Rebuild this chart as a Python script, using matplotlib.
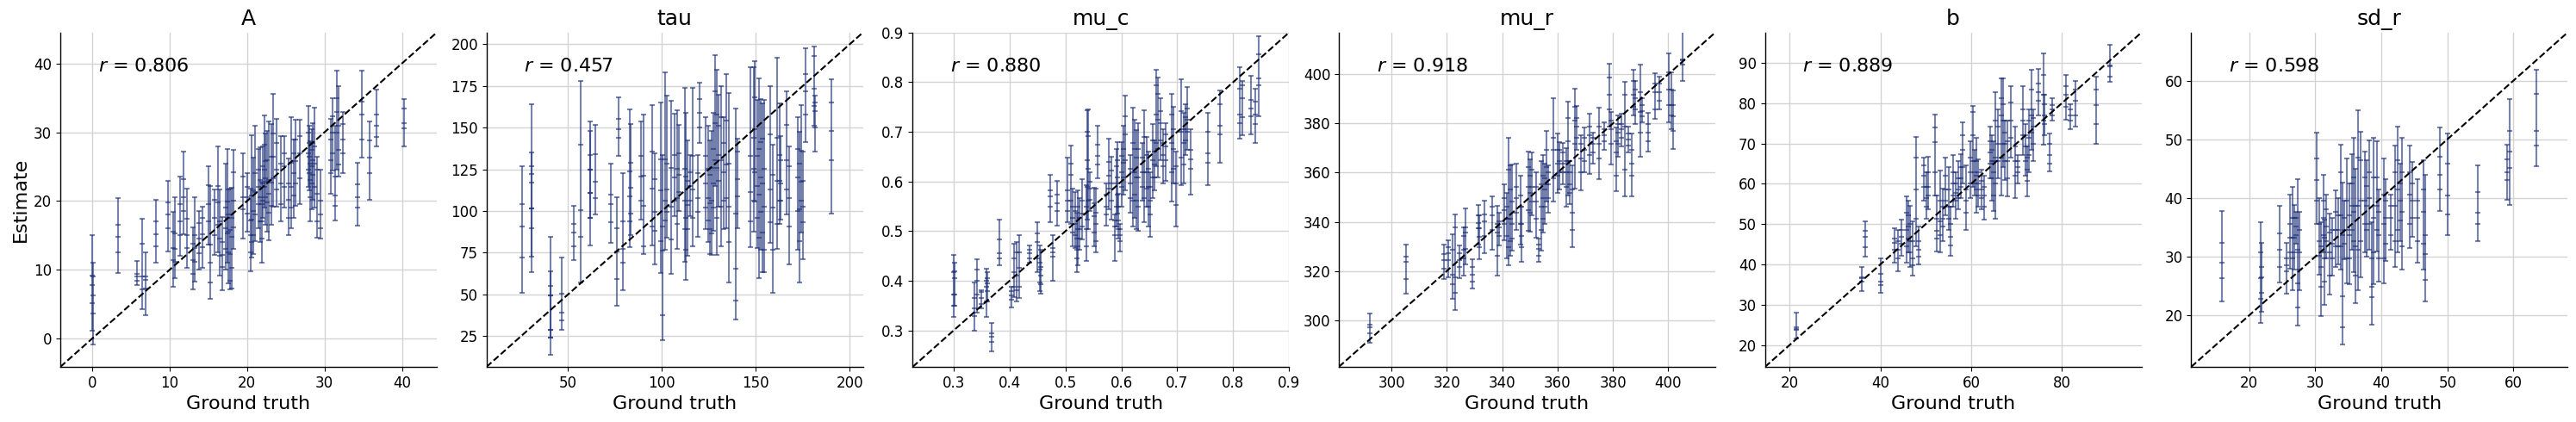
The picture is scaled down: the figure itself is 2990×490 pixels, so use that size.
import numpy as np
import matplotlib.pyplot as plt

params = ['A', 'tau', 'mu_c', 'mu_r', 'b', 'sd_r']
r_text = ['0.806', '0.457', '0.880', '0.918', '0.889', '0.598']

# each row: ground truth, lower, q25, median, q75, upper
A_rows = [
    (0.0, 1.2, 5.2, 7.8, 9.2, 15.0), (0.1, -0.8, 3.6, 6.3, 9.0, 11.0),
    (3.3, 9.6, 12.6, 14.8, 16.6, 20.4), (5.8, 7.8, 8.4, 9.0, 9.4, 11.3),
    (6.5, 4.3, 7.2, 9.0, 13.8, 17.4), (6.9, 3.4, 7.3, 8.6, 9.0, 12.6),
    (8.3, 11.1, 13.4, 15.2, 17.0, 20.2), (9.8, 12.7, 16.0, 18.0, 19.8, 22.9),
    (10.5, 7.6, 11.4, 13.2, 15.5, 18.4), (10.7, 8.8, 11.2, 13.0, 15.3, 20.6),
    (11.4, 12.0, 15.0, 17.0, 19.5, 23.5), (11.8, 15.2, 18.6, 20.5, 23.2, 27.2),
    (12.2, 10.3, 13.2, 15.0, 17.4, 21.8), (13.0, 7.2, 9.4, 11.4, 13.8, 16.2),
    (13.3, 8.3, 11.2, 13.2, 15.0, 20.5), (13.8, 10.0, 12.4, 14.5, 16.8, 18.6),
    (14.2, 10.3, 13.3, 15.2, 17.5, 19.2), (15.0, 13.7, 17.0, 19.5, 22.3, 25.0),
    (15.3, 5.8, 8.2, 11.0, 13.7, 22.2), (15.8, 12.2, 15.0, 17.6, 20.2, 21.7),
    (16.2, 12.5, 16.6, 19.8, 22.2, 28.0), (16.5, 9.2, 12.0, 14.5, 17.0, 21.7),
    (16.8, 7.0, 10.4, 12.2, 14.0, 17.7), (17.2, 10.0, 13.0, 16.0, 19.0, 25.5),
    (17.5, 11.0, 15.3, 17.6, 19.9, 27.6), (17.6, 8.0, 12.5, 15.5, 18.0, 21.7),
    (17.8, 7.2, 8.4, 12.3, 15.8, 21.8), (18.0, 7.3, 10.3, 14.8, 17.6, 21.9),
    (18.3, 13.0, 16.2, 20.0, 24.2, 27.5), (19.5, 14.5, 18.8, 20.6, 23.5, 27.0),
    (20.0, 15.6, 18.2, 20.5, 22.0, 24.0), (20.5, 9.8, 12.5, 15.1, 17.2, 21.8),
    (20.6, 11.8, 14.0, 17.3, 20.8, 29.6), (20.8, 12.3, 15.0, 18.5, 21.5, 26.3),
    (21.0, 14.2, 18.0, 21.3, 24.0, 30.9), (21.5, 16.0, 19.5, 22.0, 24.5, 27.6),
    (21.7, 14.0, 17.0, 20.5, 23.0, 27.8), (21.9, 11.0, 14.5, 17.0, 19.5, 22.8),
    (22.0, 17.5, 20.0, 22.5, 25.0, 28.0), (22.3, 19.0, 22.0, 24.5, 28.2, 32.4),
    (22.4, 16.6, 20.5, 23.3, 25.8, 29.8), (22.6, 15.5, 19.8, 22.8, 26.0, 30.2),
    (22.8, 14.3, 18.3, 21.0, 23.0, 31.6), (23.2, 16.5, 19.3, 22.7, 26.5, 31.2),
    (23.4, 19.2, 23.3, 26.4, 29.8, 35.6), (23.8, 19.2, 21.7, 24.6, 28.5, 32.0),
    (24.4, 17.0, 19.5, 22.5, 25.5, 29.4), (24.8, 19.0, 22.0, 25.0, 27.0, 29.4),
    (25.4, 15.0, 17.5, 20.2, 22.5, 26.2), (25.7, 16.0, 19.0, 22.0, 25.6, 32.2),
    (26.0, 17.5, 20.8, 24.0, 27.0, 29.0), (26.3, 19.3, 22.5, 25.8, 29.0, 31.8),
    (26.8, 19.5, 23.3, 27.0, 29.5, 31.8), (27.9, 22.0, 24.5, 27.0, 30.0, 33.8),
    (28.0, 21.5, 24.0, 26.5, 28.5, 31.0), (28.2, 17.0, 20.5, 23.0, 25.5, 28.7),
    (28.4, 18.8, 22.5, 25.0, 27.5, 30.5), (28.5, 20.2, 23.8, 26.0, 28.4, 31.3),
    (28.7, 19.0, 22.0, 25.5, 28.0, 33.6), (29.0, 14.7, 17.0, 21.0, 24.5, 26.5),
    (29.5, 14.5, 16.0, 18.0, 20.0, 24.5), (30.8, 21.0, 24.0, 26.0, 29.0, 32.0),
    (31.0, 24.4, 27.0, 30.0, 32.3, 34.9), (31.4, 17.2, 19.3, 20.8, 23.5, 31.0),
    (31.6, 24.5, 30.0, 33.0, 35.0, 39.0), (31.8, 23.6, 25.3, 27.5, 31.0, 36.7),
    (32.4, 24.0, 27.0, 29.0, 31.2, 33.0), (34.3, 16.4, 19.0, 20.5, 22.4, 25.6),
    (34.8, 26.3, 29.0, 32.6, 34.4, 39.0), (35.8, 20.2, 24.0, 26.3, 28.8, 31.6),
    (36.7, 28.0, 29.3, 31.0, 32.6, 36.2), (40.3, 28.0, 30.6, 31.3, 33.4, 34.8),
]

tau_rows = [
    (25.6, 50.8, 72.1, 90.7, 104.1, 126.9), (30.4, 63.2, 89.5, 101.4, 116.9, 163.9),
    (30.6, 72.7, 101.4, 122.0, 127.0, 135.0), (40.8, 13.6, 24.0, 28.8, 49.4, 64.0),
    (40.9, 24.0, 29.0, 49.4, 54.9, 84.7), (46.6, 28.8, 34.5, 39.1, 50.3, 72.3),
    (52.9, 70.4, 78.7, 86.9, 92.1, 103.3), (56.6, 57.2, 84.5, 100.5, 139.6, 178.1),
    (61.8, 79.2, 95.9, 111.0, 125.0, 153.5), (62.0, 95.9, 111.0, 125.0, 133.7, 148.0),
    (64.5, 98.0, 108.0, 117.4, 134.3, 151.8), (72.6, 80.7, 93.1, 104.0, 110.0, 128.2),
    (76.0, 43.1, 59.2, 76.0, 89.9, 108.3), (76.7, 132.9, 144.0, 149.2, 155.3, 168.2),
    (79.0, 52.3, 68.9, 77.3, 93.7, 122.6), (82.8, 78.3, 93.8, 109.0, 124.0, 160.8),
    (83.2, 85.6, 98.5, 114.0, 129.0, 152.3), (88.9, 95.0, 106.2, 120.8, 132.9, 153.5),
    (90.0, 74.4, 79.0, 103.1, 121.4, 157.8), (94.6, 79.5, 90.7, 113.6, 135.5, 163.3),
    (96.1, 68.0, 88.1, 99.3, 119.0, 134.6), (99.6, 62.8, 82.1, 112.2, 131.0, 165.1),
    (100.4, 22.4, 37.4, 76.1, 90.7, 133.7), (101.5, 77.0, 94.2, 106.2, 131.2, 183.1),
    (102.5, 83.8, 99.3, 113.1, 128.6, 169.0), (105.0, 62.3, 83.0, 102.8, 126.0, 165.9),
    (106.5, 96.7, 106.2, 120.0, 133.7, 158.2), (108.0, 77.3, 92.5, 107.9, 125.1, 160.4),
    (108.8, 100.2, 111.4, 121.7, 134.6, 151.5), (112.2, 69.7, 89.0, 106.2, 125.5, 173.8),
    (112.6, 58.5, 77.0, 95.9, 120.8, 158.7), (113.4, 73.2, 89.0, 103.6, 118.3, 142.4),
    (115.2, 96.7, 106.2, 114.8, 123.4, 133.7), (116.3, 78.7, 95.9, 113.1, 132.9, 173.7),
    (119.3, 84.7, 99.3, 107.9, 122.6, 133.7), (120.1, 140.6, 150.1, 158.7, 167.3, 176.8),
    (123.2, 89.0, 101.9, 116.5, 132.9, 156.5), (124.4, 81.3, 94.2, 107.9, 125.1, 151.0),
    (125.5, 74.4, 89.0, 104.5, 121.7, 142.4), (126.4, 73.5, 86.4, 106.2, 126.0, 147.9),
    (127.4, 88.1, 101.9, 116.5, 137.2, 158.7), (128.2, 114.8, 130.3, 152.7, 172.0, 193.5),
    (129.0, 73.5, 95.9, 126.0, 157.8, 184.5), (130.2, 102.8, 118.3, 133.7, 151.0, 169.9),
    (131.6, 79.0, 102.8, 130.3, 156.1, 175.0), (132.8, 89.0, 106.2, 123.4, 140.6, 156.1),
    (134.3, 89.9, 107.9, 127.7, 154.4, 181.9), (135.4, 57.2, 81.3, 102.8, 128.6, 170.7),
    (139.2, 34.8, 46.3, 65.3, 98.5, 161.6), (140.4, 89.9, 108.8, 119.1, 135.5, 143.2),
    (147.0, 78.3, 93.8, 111.4, 132.9, 186.2), (148.8, 87.6, 106.2, 125.1, 144.1, 186.2),
    (149.6, 105.9, 123.4, 149.2, 168.2, 190.0), (150.7, 77.8, 95.9, 114.8, 132.9, 166.4),
    (151.6, 59.7, 83.8, 109.7, 137.2, 179.3), (152.6, 77.0, 99.3, 120.0, 141.5, 167.3),
    (153.4, 63.2, 87.3, 116.5, 143.2, 164.7), (154.2, 63.2, 77.0, 102.8, 125.1, 166.4),
    (157.7, 80.7, 93.3, 113.1, 145.8, 175.0), (158.8, 51.1, 77.0, 101.9, 121.7, 139.8),
    (161.3, 77.3, 92.5, 118.3, 144.1, 191.7), (162.6, 92.5, 106.2, 118.3, 133.7, 164.7),
    (163.3, 95.0, 106.2, 116.5, 130.3, 144.9), (166.4, 98.0, 113.1, 130.3, 151.5, 171.6),
    (167.9, 68.0, 90.7, 107.9, 126.9, 138.9), (172.2, 77.0, 100.2, 120.0, 137.2, 156.5),
    (173.0, 57.2, 82.1, 101.1, 128.6, 147.5), (174.0, 87.3, 106.2, 117.4, 136.3, 163.3),
    (175.1, 71.3, 93.3, 102.8, 118.3, 135.8), (176.6, 141.1, 157.8, 172.0, 181.9, 197.4),
    (180.9, 151.0, 163.0, 173.3, 192.8, 198.8), (181.3, 135.8, 150.0, 160.0, 165.0, 169.4),
    (190.1, 98.5, 130.3, 147.9, 165.1, 178.8),
]

mu_c_rows = [
    (0.300, 0.327, 0.350, 0.373, 0.417, 0.453), (0.302, 0.350, 0.373, 0.405, 0.420, 0.437),
    (0.337, 0.300, 0.330, 0.345, 0.365, 0.397), (0.342, 0.336, 0.373, 0.400, 0.423, 0.443),
    (0.350, 0.345, 0.354, 0.365, 0.377, 0.382), (0.359, 0.327, 0.359, 0.388, 0.400, 0.424),
    (0.361, 0.359, 0.380, 0.395, 0.405, 0.417), (0.368, 0.259, 0.278, 0.287, 0.295, 0.316),
    (0.382, 0.431, 0.446, 0.455, 0.483, 0.523), (0.403, 0.347, 0.362, 0.371, 0.380, 0.388),
    (0.409, 0.368, 0.388, 0.417, 0.446, 0.475), (0.413, 0.359, 0.382, 0.411, 0.457, 0.478),
    (0.417, 0.365, 0.388, 0.426, 0.457, 0.493), (0.436, 0.437, 0.446, 0.455, 0.463, 0.472),
    (0.450, 0.417, 0.446, 0.478, 0.495, 0.519), (0.454, 0.379, 0.397, 0.423, 0.437, 0.472),
    (0.456, 0.375, 0.394, 0.411, 0.428, 0.463), (0.477, 0.401, 0.449, 0.457, 0.466, 0.493),
    (0.473, 0.519, 0.550, 0.570, 0.582, 0.614), (0.485, 0.512, 0.540, 0.556, 0.573, 0.601),
    (0.504, 0.518, 0.541, 0.562, 0.582, 0.648), (0.510, 0.515, 0.562, 0.614, 0.636, 0.673),
    (0.513, 0.469, 0.498, 0.527, 0.550, 0.585), (0.517, 0.466, 0.492, 0.515, 0.540, 0.579),
    (0.520, 0.417, 0.446, 0.463, 0.486, 0.538), (0.522, 0.431, 0.469, 0.504, 0.550, 0.582),
    (0.526, 0.463, 0.486, 0.504, 0.527, 0.567), (0.530, 0.483, 0.509, 0.536, 0.562, 0.605),
    (0.537, 0.440, 0.469, 0.504, 0.550, 0.593), (0.539, 0.524, 0.590, 0.643, 0.700, 0.744),
    (0.541, 0.504, 0.562, 0.625, 0.692, 0.746), (0.544, 0.541, 0.564, 0.585, 0.599, 0.619),
    (0.551, 0.469, 0.498, 0.530, 0.556, 0.588), (0.554, 0.457, 0.480, 0.515, 0.538, 0.585),
    (0.558, 0.607, 0.634, 0.651, 0.674, 0.712), (0.573, 0.511, 0.533, 0.550, 0.573, 0.596),
    (0.577, 0.545, 0.585, 0.611, 0.640, 0.686), (0.582, 0.524, 0.562, 0.596, 0.622, 0.650),
    (0.589, 0.441, 0.492, 0.509, 0.521, 0.533), (0.591, 0.509, 0.550, 0.596, 0.631, 0.666),
    (0.593, 0.536, 0.573, 0.608, 0.643, 0.680), (0.595, 0.486, 0.504, 0.521, 0.550, 0.576),
    (0.597, 0.460, 0.480, 0.492, 0.504, 0.515), (0.601, 0.550, 0.590, 0.619, 0.651, 0.680),
    (0.604, 0.573, 0.608, 0.637, 0.666, 0.712), (0.607, 0.582, 0.643, 0.695, 0.732, 0.773),
    (0.616, 0.538, 0.567, 0.596, 0.625, 0.654), (0.620, 0.509, 0.562, 0.619, 0.677, 0.748),
    (0.624, 0.527, 0.573, 0.619, 0.666, 0.724), (0.627, 0.504, 0.562, 0.608, 0.648, 0.703),
    (0.630, 0.501, 0.550, 0.608, 0.666, 0.718), (0.637, 0.562, 0.590, 0.619, 0.648, 0.678),
    (0.641, 0.518, 0.567, 0.619, 0.689, 0.744), (0.645, 0.550, 0.585, 0.619, 0.654, 0.689),
    (0.648, 0.509, 0.550, 0.590, 0.625, 0.660), (0.652, 0.489, 0.533, 0.562, 0.590, 0.619),
    (0.656, 0.567, 0.608, 0.643, 0.683, 0.715), (0.660, 0.582, 0.608, 0.634, 0.660, 0.683),
    (0.663, 0.631, 0.677, 0.735, 0.793, 0.825), (0.666, 0.608, 0.666, 0.724, 0.777, 0.810),
    (0.670, 0.643, 0.683, 0.718, 0.741, 0.767), (0.674, 0.596, 0.631, 0.654, 0.677, 0.706),
    (0.679, 0.602, 0.643, 0.671, 0.695, 0.718), (0.690, 0.559, 0.619, 0.677, 0.735, 0.777),
    (0.693, 0.596, 0.625, 0.666, 0.706, 0.750), (0.697, 0.509, 0.553, 0.596, 0.631, 0.660),
    (0.707, 0.593, 0.648, 0.700, 0.741, 0.806), (0.711, 0.596, 0.634, 0.677, 0.706, 0.738),
    (0.715, 0.654, 0.683, 0.706, 0.729, 0.755), (0.718, 0.663, 0.700, 0.724, 0.747, 0.790),
    (0.724, 0.573, 0.625, 0.645, 0.663, 0.705), (0.754, 0.593, 0.637, 0.657, 0.700, 0.738),
    (0.776, 0.637, 0.695, 0.712, 0.755, 0.783), (0.812, 0.687, 0.718, 0.735, 0.787, 0.830),
    (0.816, 0.693, 0.729, 0.767, 0.793, 0.803), (0.832, 0.695, 0.732, 0.747, 0.764, 0.813),
    (0.839, 0.678, 0.715, 0.735, 0.761, 0.786), (0.845, 0.731, 0.793, 0.808, 0.857, 0.893),
]

mu_r_rows = [
    (292.1, 290.8, 294.6, 297.0, 298.1, 302.8), (305.4, 310.7, 316.8, 323.6, 325.8, 330.6),
    (319.1, 316.8, 320.9, 324.4, 326.8, 330.6), (320.6, 317.4, 324.4, 327.3, 329.7, 332.6),
    (322.2, 308.6, 314.5, 318.6, 328.5, 334.9), (323.0, 304.2, 311.0, 317.4, 337.9, 343.1),
    (324.5, 317.1, 321.5, 324.4, 327.3, 330.3), (326.1, 318.2, 325.0, 328.5, 334.3, 337.9),
    (326.9, 322.7, 329.1, 335.5, 337.9, 345.4), (329.1, 312.7, 315.7, 318.6, 321.5, 324.8),
    (331.3, 330.8, 337.3, 339.6, 342.5, 346.8), (331.8, 324.8, 329.7, 333.8, 337.3, 342.5),
    (333.6, 327.3, 334.3, 340.2, 343.1, 348.6), (336.5, 328.5, 336.7, 342.5, 346.0, 350.4),
    (338.3, 318.0, 326.2, 335.5, 339.0, 346.6), (339.0, 330.3, 334.3, 337.9, 340.2, 343.7),
    (340.9, 332.6, 339.0, 344.9, 349.5, 355.4), (341.7, 325.2, 334.3, 341.4, 346.0, 351.9),
    (342.4, 322.4, 329.7, 341.4, 361.2, 374.1), (342.9, 326.2, 332.0, 341.4, 353.0, 363.0),
    (343.5, 328.3, 333.2, 339.0, 348.4, 363.3), (345.0, 336.7, 343.7, 349.5, 354.2, 363.6),
    (346.6, 330.8, 339.0, 346.0, 350.7, 358.6), (346.9, 323.8, 329.7, 334.3, 339.0, 346.0),
    (349.4, 336.4, 344.9, 354.2, 362.4, 368.5), (350.0, 336.1, 343.7, 351.9, 358.9, 365.5),
    (350.7, 342.5, 348.4, 354.2, 361.2, 368.2), (352.3, 333.4, 341.4, 348.4, 354.2, 360.0),
    (353.3, 323.8, 326.2, 329.1, 330.8, 333.2), (354.1, 328.3, 336.7, 346.0, 355.4, 364.7),
    (354.7, 335.5, 341.4, 349.5, 358.9, 367.1), (355.4, 339.0, 346.0, 353.0, 357.7, 363.6),
    (355.9, 348.4, 355.4, 362.4, 369.4, 377.0), (356.6, 343.7, 349.5, 355.4, 360.0, 363.0),
    (358.5, 348.4, 357.7, 369.4, 374.1, 390.4), (360.1, 351.9, 358.9, 363.6, 369.4, 375.8),
    (360.8, 353.0, 360.0, 364.7, 369.4, 372.3), (361.8, 355.4, 360.0, 363.6, 368.2, 372.0),
    (363.2, 346.0, 354.2, 360.0, 364.7, 370.0), (363.9, 350.7, 364.7, 372.9, 382.2, 389.0),
    (364.5, 347.2, 351.9, 355.4, 360.0, 364.7), (365.2, 329.7, 336.7, 343.7, 353.0, 363.0),
    (366.3, 353.6, 371.7, 381.1, 386.9, 394.2), (367.0, 369.4, 374.1, 378.7, 382.2, 387.1),
    (368.6, 352.8, 360.0, 365.9, 371.7, 375.2), (369.7, 360.0, 364.7, 369.4, 374.1, 378.5),
    (371.5, 359.5, 367.1, 375.2, 378.7, 384.0), (372.8, 363.6, 368.2, 371.7, 374.1, 376.4),
    (374.9, 357.5, 365.9, 371.7, 378.7, 386.3), (377.0, 369.4, 372.9, 375.2, 377.6, 380.5),
    (378.7, 378.7, 385.7, 391.6, 398.8, 404.4), (379.3, 363.3, 371.7, 377.6, 381.1, 384.6),
    (381.1, 352.5, 358.9, 368.2, 372.9, 378.2), (381.8, 366.5, 371.7, 376.4, 379.9, 383.4),
    (383.2, 370.6, 374.1, 377.6, 379.9, 384.0), (384.2, 350.5, 361.2, 378.7, 391.6, 396.8),
    (385.5, 368.2, 371.0, 373.5, 376.0, 378.7), (386.7, 350.5, 358.9, 363.6, 369.4, 375.8),
    (387.3, 383.4, 386.9, 391.6, 397.4, 401.8), (388.1, 379.9, 385.7, 390.4, 393.9, 397.4),
    (389.8, 366.5, 376.4, 384.6, 392.8, 403.9), (390.5, 380.5, 382.8, 385.1, 387.5, 390.4),
    (392.7, 368.5, 372.9, 376.4, 379.9, 384.3), (395.1, 381.7, 385.7, 392.8, 396.3, 400.4),
    (396.9, 385.7, 389.3, 392.8, 396.3, 399.2), (400.3, 380.5, 387.5, 393.9, 400.9, 408.5),
    (401.0, 377.6, 383.4, 387.5, 393.9, 400.7), (401.9, 369.6, 377.0, 382.8, 387.5, 393.3),
    (405.2, 397.4, 404.0, 405.6, 406.2, 420.0),
]

b_rows = [
    (21.5, 21.6, 23.8, 24.1, 24.5, 28.0), (35.9, 33.3, 35.8, 36.5, 36.9, 39.4),
    (36.6, 41.9, 44.2, 46.8, 48.3, 50.7), (40.0, 32.9, 34.8, 35.8, 37.6, 41.5),
    (43.2, 40.4, 43.6, 45.4, 46.5, 49.0), (43.8, 38.3, 41.5, 43.6, 45.8, 48.6),
    (44.6, 42.2, 45.1, 46.8, 48.6, 51.1), (45.7, 40.4, 44.4, 48.6, 52.9, 56.8),
    (46.1, 42.9, 46.5, 49.3, 52.2, 55.7), (46.6, 39.4, 42.9, 45.8, 50.0, 54.6),
    (47.1, 37.3, 39.7, 41.5, 45.8, 50.7), (47.9, 44.4, 51.4, 58.5, 66.4, 71.7),
    (48.5, 40.1, 41.9, 43.6, 45.8, 49.3), (49.5, 55.7, 59.3, 62.1, 64.6, 66.4),
    (50.1, 51.4, 54.3, 56.4, 59.3, 62.8), (50.6, 53.6, 57.1, 59.3, 62.8, 66.7),
    (52.0, 57.1, 62.8, 70.3, 74.0, 77.1), (52.5, 43.3, 46.5, 48.3, 51.4, 57.1),
    (53.1, 42.9, 47.2, 50.7, 55.7, 63.2), (53.7, 45.8, 49.3, 51.4, 54.3, 58.9),
    (54.4, 52.2, 55.7, 58.5, 62.1, 66.4), (55.0, 48.6, 51.4, 54.3, 58.5, 64.2),
    (55.4, 42.2, 44.7, 46.8, 50.0, 54.3), (56.1, 54.3, 57.1, 60.0, 62.8, 67.1),
    (56.5, 51.4, 55.7, 57.8, 60.0, 62.8), (57.1, 53.6, 56.4, 58.5, 61.4, 65.6),
    (57.7, 56.4, 59.3, 61.4, 64.2, 67.4), (58.2, 60.0, 64.2, 68.5, 72.0, 75.2),
    (58.8, 48.6, 52.9, 55.7, 58.5, 64.6), (59.9, 56.4, 60.0, 62.8, 66.4, 70.6),
    (60.3, 59.3, 65.6, 72.0, 77.7, 79.3), (60.7, 57.1, 60.0, 62.8, 65.6, 68.5),
    (61.1, 52.9, 58.5, 62.1, 65.6, 71.3), (61.6, 54.3, 57.1, 60.0, 62.8, 66.0),
    (62.2, 53.6, 56.4, 58.5, 60.7, 63.5), (62.9, 51.1, 54.3, 57.1, 59.3, 62.1),
    (64.1, 61.4, 64.9, 67.8, 70.6, 74.2), (64.5, 55.7, 61.4, 65.6, 68.5, 72.0),
    (64.9, 53.2, 57.1, 62.8, 65.6, 70.6), (65.4, 51.4, 60.0, 66.4, 75.6, 82.7),
    (65.8, 61.4, 65.6, 69.9, 74.2, 78.4), (66.6, 57.1, 66.4, 77.0, 81.3, 86.2),
    (67.0, 64.2, 69.9, 75.6, 79.8, 86.1), (67.5, 61.0, 65.6, 69.9, 72.7, 75.6),
    (68.0, 56.8, 61.4, 65.6, 70.6, 75.6), (68.7, 66.4, 71.3, 75.6, 80.2, 84.1),
    (69.6, 56.4, 62.1, 65.6, 69.2, 74.2), (70.2, 60.0, 62.8, 64.2, 65.6, 67.1),
    (71.3, 67.1, 72.0, 75.6, 78.4, 84.1), (71.9, 62.1, 65.6, 69.2, 72.0, 74.9),
    (72.3, 56.8, 60.7, 63.5, 66.4, 69.2), (72.7, 62.8, 67.1, 71.3, 75.6, 78.4),
    (73.2, 68.5, 72.7, 77.0, 83.4, 88.2), (73.6, 65.6, 69.9, 74.2, 76.3, 78.4),
    (74.8, 77.0, 80.6, 82.7, 84.8, 88.4), (75.9, 69.6, 75.6, 82.0, 86.9, 92.3),
    (76.2, 72.0, 74.9, 77.0, 79.8, 82.0), (77.3, 63.0, 64.9, 67.1, 69.9, 72.4),
    (77.8, 75.6, 77.0, 78.4, 79.5, 81.3), (80.9, 75.9, 79.1, 82.0, 84.1, 86.9),
    (81.9, 73.5, 75.6, 77.0, 78.4, 79.8), (83.0, 74.2, 77.0, 80.6, 83.4, 85.5),
    (87.5, 69.9, 74.9, 79.5, 83.3, 86.6), (90.6, 85.2, 86.6, 89.1, 89.4, 94.4),
]

sd_r_rows = [
    (15.9, 22.3, 26.3, 28.9, 32.4, 37.7), (21.7, 18.7, 22.8, 26.3, 30.7, 35.9),
    (21.9, 20.6, 23.8, 26.5, 28.2, 32.3), (24.6, 25.6, 28.2, 31.1, 33.9, 38.6),
    (25.6, 23.7, 27.5, 28.5, 29.7, 32.3), (26.2, 28.0, 30.7, 33.2, 35.6, 40.5),
    (26.5, 24.2, 29.7, 33.2, 36.6, 41.9), (26.8, 27.8, 30.7, 33.2, 36.6, 38.8),
    (27.1, 32.2, 33.6, 35.1, 36.6, 37.6), (27.3, 18.2, 21.3, 25.5, 31.2, 43.2),
    (27.6, 24.3, 27.8, 30.7, 34.6, 37.6), (30.2, 35.6, 39.5, 43.1, 46.7, 51.1),
    (30.6, 26.9, 30.2, 32.7, 35.6, 40.0), (30.9, 19.9, 24.8, 28.2, 31.7, 35.9),
    (31.2, 30.7, 33.6, 36.6, 39.5, 44.0), (31.4, 21.8, 25.8, 29.7, 33.2, 36.3),
    (31.7, 29.7, 32.7, 35.1, 38.1, 40.5), (32.1, 23.6, 26.8, 30.7, 34.1, 37.3),
    (32.6, 26.8, 29.7, 32.2, 34.6, 36.6), (33.1, 28.2, 31.7, 34.6, 37.6, 41.3),
    (33.4, 28.7, 31.7, 34.6, 37.1, 40.0), (33.8, 27.8, 31.7, 37.1, 44.4, 49.1),
    (34.1, 15.0, 17.9, 23.2, 33.6, 42.6), (34.4, 29.5, 32.2, 34.6, 36.6, 39.5),
    (34.8, 25.5, 29.7, 34.6, 39.5, 46.7), (35.2, 25.3, 29.7, 33.6, 37.1, 42.5),
    (35.5, 31.2, 34.6, 38.6, 42.5, 47.4), (35.8, 27.3, 32.7, 37.6, 43.5, 50.3),
    (36.1, 22.1, 26.8, 31.7, 38.6, 44.9), (36.5, 24.2, 31.2, 38.6, 46.9, 55.0),
    (36.8, 26.5, 32.7, 39.5, 46.4, 51.3), (37.5, 30.7, 35.6, 39.5, 43.5, 47.9),
    (37.8, 30.0, 34.6, 38.6, 42.0, 46.4), (38.2, 31.2, 35.6, 40.0, 44.4, 49.8),
    (38.5, 18.4, 23.1, 24.8, 29.7, 35.9), (38.8, 25.3, 30.7, 36.6, 43.5, 50.3),
    (39.3, 30.9, 34.6, 38.6, 43.5, 49.6), (39.6, 25.8, 29.7, 33.6, 37.6, 41.5),
    (40.4, 25.5, 29.7, 35.6, 40.5, 46.7), (40.7, 29.2, 32.2, 36.6, 39.5, 43.2),
    (41.4, 31.2, 33.6, 36.6, 38.6, 40.5), (42.1, 28.2, 32.7, 38.6, 44.4, 48.9),
    (42.4, 30.7, 34.6, 41.5, 46.4, 52.1), (42.8, 32.7, 36.1, 39.5, 42.5, 45.9),
    (43.1, 27.8, 31.7, 37.6, 44.4, 50.2), (44.3, 31.4, 35.6, 40.5, 44.4, 48.9),
    (44.7, 33.4, 36.6, 39.5, 42.5, 46.2), (45.4, 29.0, 32.7, 36.6, 39.5, 43.2),
    (46.4, 27.8, 32.2, 37.6, 41.5, 46.4), (46.7, 22.3, 26.0, 30.5, 33.6, 44.0),
    (48.8, 37.8, 41.5, 44.0, 47.0, 52.0), (50.0, 33.6, 37.2, 40.4, 45.8, 51.0),
    (54.6, 32.6, 35.6, 37.5, 41.0, 45.5), (59.0, 39.7, 43.0, 44.4, 46.6, 49.0),
    (59.4, 38.8, 45.1, 47.9, 51.4, 56.9), (63.5, 45.4, 48.9, 51.4, 57.7, 61.9),
]

all_rows = [A_rows, tau_rows, mu_c_rows, mu_r_rows, b_rows, sd_r_rows]

# shared axis range per panel (x and y use the same range)
lims = [(-4.1, 44.5), (6.6, 207.0), (0.227, 0.9), (281.0, 417.0), (14.6, 97.5), (11.2, 68.2)]
xticks = [[0, 10, 20, 30, 40], [50, 100, 150, 200], [0.3, 0.4, 0.5, 0.6, 0.7, 0.8, 0.9],
          [300, 320, 340, 360, 380, 400], [20, 40, 60, 80], [20, 30, 40, 50, 60]]
yticks = [[0, 10, 20, 30, 40], [25, 50, 75, 100, 125, 150, 175, 200],
          [0.3, 0.4, 0.5, 0.6, 0.7, 0.8, 0.9], [300, 320, 340, 360, 380, 400],
          [20, 30, 40, 50, 60, 70, 80, 90], [20, 30, 40, 50, 60]]

col = '#1d2f78'

fig = plt.figure(figsize=(29.9, 4.9), dpi=100)

for i, name in enumerate(params):
    ax = fig.add_axes([(70 + i * 494.66) / 2990, 64 / 490, 437 / 2990, 388.3 / 490])
    d = np.array(all_rows[i])
    gt, lo, q1, med, q3, hi = d.T

    ax.errorbar(gt, med, yerr=[med - lo, hi - med], fmt='none', ecolor=col,
                elinewidth=1.5, capsize=2.5, capthick=1.5, alpha=0.6, zorder=2)
    ax.plot(np.repeat(gt, 3), np.column_stack([q1, med, q3]).ravel(), ls='none',
            marker='_', ms=5, mew=1.5, color=col, alpha=0.6, zorder=2)

    lim = lims[i]
    ax.plot(lim, lim, 'k--', lw=1.5, zorder=3)
    ax.set_xlim(lim)
    ax.set_ylim(lim)
    ax.set_xticks(xticks[i])
    ax.set_yticks(yticks[i])
    ax.tick_params(labelsize=12, length=3.5)
    ax.grid(True, color='#d3d3d3', lw=1)
    ax.set_axisbelow(True)
    for s in ['top', 'right']:
        ax.spines[s].set_visible(False)
    for s in ['left', 'bottom']:
        ax.spines[s].set_linewidth(1.0)

    ax.set_title(name, fontsize=18)
    ax.set_xlabel('Ground truth', fontsize=16)
    if i == 0:
        ax.set_ylabel('Estimate', fontsize=16)
    ax.text(0.1, 0.9, '$r$ = ' + r_text[i], transform=ax.transAxes,
            fontsize=16, va='center', ha='left')

fig.savefig('out.png', dpi=100)
